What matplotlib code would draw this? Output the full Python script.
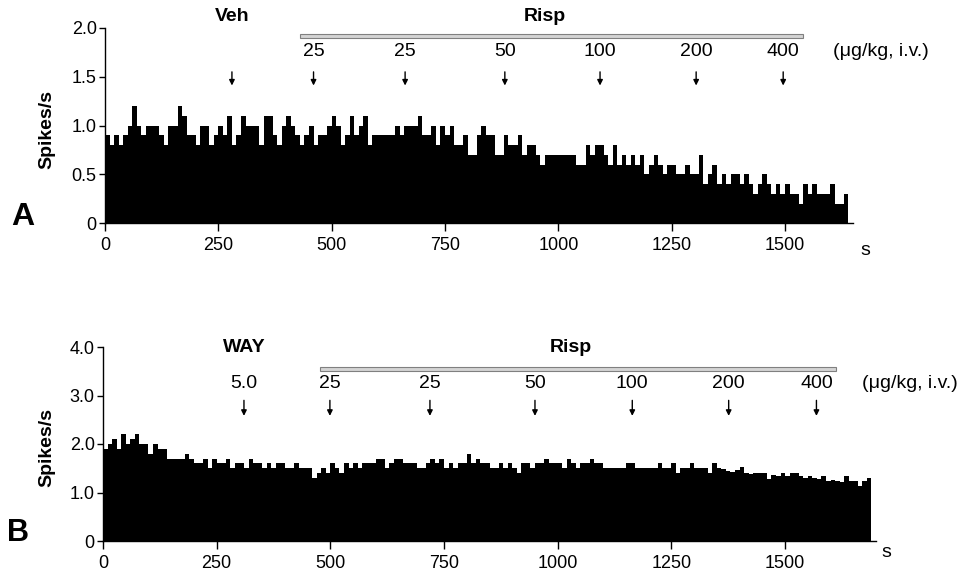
import numpy as np
import matplotlib
matplotlib.use('Agg')
import matplotlib.pyplot as plt
from matplotlib.patches import Rectangle

plt.rcParams['font.family'] = ['Liberation Sans', 'DejaVu Sans']

# bin width in seconds
bin_s = 10

# panel A: firing rate per 10 s bin (spikes/s)
rate_a = [0.9, 0.8, 0.9, 0.8, 0.9, 1.0, 1.2, 1.0, 0.9, 1.0, 1.0, 1.0, 0.9, 0.8, 1.0, 1.0, 1.2, 1.1, 0.9, 0.9,
          0.8, 1.0, 1.0, 0.8, 0.9, 1.0, 0.9, 1.1, 0.8, 0.9, 1.1, 1.0, 1.0, 1.0, 0.8, 1.1, 1.1, 0.9, 0.8, 1.0,
          1.1, 1.0, 0.9, 0.8, 0.9, 1.0, 0.8, 0.9, 0.9, 1.0, 1.1, 1.0, 0.8, 0.9, 1.1, 0.9, 1.0, 1.1, 0.8, 0.9,
          0.9, 0.9, 0.9, 0.9, 1.0, 0.9, 1.0, 1.0, 1.0, 1.1, 0.9, 0.9, 1.0, 0.8, 1.0, 0.9, 1.0, 0.8, 0.8, 0.9,
          0.7, 0.7, 0.9, 1.0, 0.9, 0.9, 0.7, 0.7, 0.9, 0.8, 0.8, 0.9, 0.7, 0.8, 0.8, 0.7, 0.6, 0.7, 0.7, 0.7,
          0.7, 0.7, 0.7, 0.7, 0.6, 0.6, 0.8, 0.7, 0.8, 0.8, 0.7, 0.6, 0.8, 0.6, 0.7, 0.6, 0.7, 0.6, 0.7, 0.5,
          0.6, 0.7, 0.6, 0.5, 0.6, 0.6, 0.5, 0.5, 0.6, 0.5, 0.5, 0.7, 0.4, 0.5, 0.6, 0.4, 0.5, 0.4, 0.5, 0.5,
          0.4, 0.5, 0.4, 0.3, 0.4, 0.5, 0.4, 0.3, 0.4, 0.3, 0.4, 0.3, 0.3, 0.2, 0.4, 0.3, 0.4, 0.3, 0.3, 0.3,
          0.4, 0.2, 0.2, 0.3]

# panel B: firing rate per 10 s bin (spikes/s)
rate_b = [1.9, 2.0, 2.1, 1.9, 2.2, 2.0, 2.1, 2.2, 2.0, 2.0, 1.8, 2.0, 1.9, 1.9, 1.7, 1.7, 1.7, 1.7, 1.8, 1.7,
          1.6, 1.6, 1.7, 1.5, 1.7, 1.6, 1.6, 1.7, 1.5, 1.6, 1.6, 1.5, 1.7, 1.6, 1.6, 1.5, 1.6, 1.5, 1.6, 1.6,
          1.5, 1.5, 1.6, 1.5, 1.5, 1.5, 1.3, 1.4, 1.5, 1.4, 1.6, 1.5, 1.4, 1.6, 1.5, 1.6, 1.5, 1.6, 1.6, 1.6,
          1.7, 1.7, 1.5, 1.6, 1.7, 1.7, 1.6, 1.6, 1.6, 1.5, 1.5, 1.6, 1.7, 1.6, 1.7, 1.5, 1.6, 1.5, 1.6, 1.6,
          1.8, 1.6, 1.7, 1.6, 1.6, 1.5, 1.5, 1.6, 1.5, 1.6, 1.5, 1.4, 1.6, 1.6, 1.5, 1.6, 1.6, 1.7, 1.6, 1.6,
          1.6, 1.5, 1.7, 1.6, 1.5, 1.6, 1.6, 1.7, 1.6, 1.6, 1.5, 1.5, 1.5, 1.5, 1.5, 1.6, 1.6, 1.5, 1.5, 1.5,
          1.5, 1.5, 1.6, 1.5, 1.5, 1.6, 1.4, 1.5, 1.5, 1.6, 1.5, 1.5, 1.5, 1.4, 1.6, 1.5, 1.48, 1.45, 1.43, 1.46,
          1.52, 1.40, 1.38, 1.40, 1.40, 1.40, 1.27, 1.37, 1.34, 1.41, 1.34, 1.40, 1.40, 1.34, 1.30, 1.34, 1.29, 1.27,
          1.34, 1.24, 1.26, 1.24, 1.22, 1.33, 1.24, 1.23, 1.13, 1.24, 1.29]

# injection times (s) and labels
inj_a = [280, 460, 662, 882, 1092, 1304, 1496]
dose_a = ['', '25', '25', '50', '100', '200', '400']
inj_b = [310, 499, 719, 950, 1164, 1376, 1569]
dose_b = ['5.0', '25', '25', '50', '100', '200', '400']

xticks = [0, 250, 500, 750, 1000, 1250, 1500]


def draw_panel(ax, rate, inj, dose, ylim, yticks, yticklabels, first_drug, risp_x, risp_span, pos):
    # pos: heights (data units) for drug name, grey bar, dose text, arrow top, arrow tip
    y_name, y_bar, bar_h, y_dose, y_arr0, y_arr1, x_unit = pos
    t = np.arange(len(rate)) * bin_s
    ax.bar(t, rate, width=bin_s, align='edge', color='black', linewidth=0)

    ax.set_xlim(0, ylim[0])
    ax.set_ylim(0, ylim[1])
    ax.set_xticks(xticks)
    ax.set_xticklabels([str(x) for x in xticks], fontsize=13)
    ax.set_yticks(yticks)
    ax.set_yticklabels(yticklabels, fontsize=13)
    ax.spines['top'].set_visible(False)
    ax.spines['right'].set_visible(False)
    ax.spines['left'].set_linewidth(1.0)
    ax.spines['bottom'].set_linewidth(1.0)
    ax.tick_params(axis='x', direction='out', length=6, width=1, pad=4)
    ax.tick_params(axis='y', direction='out', length=4, width=1, pad=2)
    ax.set_ylabel('Spikes/s', fontsize=14, fontweight='bold')

    ax.text(inj[0], y_name, first_drug, ha='center', va='center', fontsize=14, fontweight='bold', clip_on=False)
    ax.text(risp_x, y_name, 'Risp', ha='center', va='center', fontsize=14, fontweight='bold', clip_on=False)

    ax.add_patch(Rectangle((risp_span[0], y_bar), risp_span[1] - risp_span[0], bar_h,
                           facecolor='#d4d4d4', edgecolor='#808080', linewidth=0.8, clip_on=False))

    for x, d in zip(inj, dose):
        ax.text(x, y_dose, d, ha='center', va='center', fontsize=14)
        ax.annotate('', xy=(x, y_arr1), xytext=(x, y_arr0),
                    arrowprops=dict(arrowstyle='-|>', color='black', lw=1.0, mutation_scale=8, shrinkA=0, shrinkB=0))
    ax.text(x_unit, y_dose, '(\u03bcg/kg, i.v.)', ha='left', va='center', fontsize=14)


fig = plt.figure(figsize=(9.63, 5.82), dpi=100)

ax1 = fig.add_axes([105 / 963, 1 - 223 / 582, 748 / 963, 195 / 582])
draw_panel(ax1, rate_a, inj_a, dose_a, (1650, 2.0), [0, 0.5, 1.0, 1.5, 2.0], ['0', '0.5', '1.0', '1.5', '2.0'],
           'Veh', 970, (430, 1540), (2.12, 1.895, 0.045, 1.76, 1.55, 1.41, 1605))
ax1.yaxis.set_label_coords(-0.066, 0.48)
ax1.text(1677, -0.14, 's', transform=ax1.get_xaxis_transform(), ha='center', va='center', fontsize=14)

ax2 = fig.add_axes([103 / 963, 1 - 541 / 582, 773 / 963, 194 / 582])
draw_panel(ax2, rate_b, inj_b, dose_b, (1700, 4.0), [0, 1.0, 2.0, 3.0, 4.0], ['0', '1.0', '2.0', '3.0', '4.0'],
           'WAY', 1029, (477, 1611), (4.0, 3.5, 0.09, 3.24, 2.9, 2.58, 1670))
ax2.yaxis.set_label_coords(-0.062, 0.48)
ax2.text(1723, -0.06, 's', transform=ax2.get_xaxis_transform(), ha='center', va='center', fontsize=14)

fig.text(11 / 963, 1 - 225 / 582, 'A', fontsize=23, fontweight='bold', ha='left', va='baseline')
fig.text(7 / 963, 1 - 541 / 582, 'B', fontsize=22, fontweight='bold', ha='left', va='baseline')

plt.savefig('out.png', dpi=100)
